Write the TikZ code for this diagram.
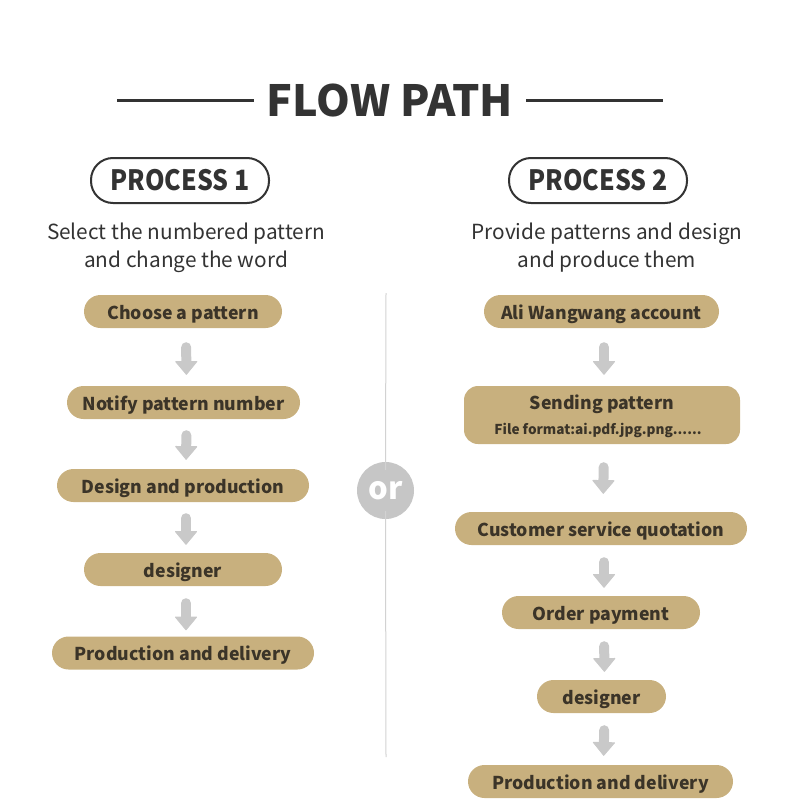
\documentclass[tikz,border=0pt]{standalone}
\usepackage{fontspec}
\setmainfont{Noto Sans CJK SC}
\usetikzlibrary{arrows.meta}
\definecolor{pillc}{HTML}{C8B07E}
\definecolor{pilltext}{HTML}{3B3428}
\definecolor{dark}{HTML}{333333}
\definecolor{arrowc}{HTML}{C9C9C9}
\definecolor{orc}{HTML}{C6C6C6}
\definecolor{divc}{HTML}{D2D2D2}
\begin{document}
\begin{tikzpicture}[x=1pt,y=-1pt,
  pill/.style={fill=pillc, rounded corners=16.5pt, minimum height=33pt, inner sep=0pt,
    text height=15pt, text depth=0pt,
    text=pilltext, font=\fontsize{17.7}{20}\selectfont\bfseries},
  procbox/.style={draw=dark, line width=2pt, rounded corners=22pt, minimum width=178pt,
    minimum height=45pt, inner sep=0pt, text=dark, font=\fontsize{28}{30}\selectfont\bfseries},
  subt/.style={text=dark, align=center, font=\fontsize{20.8}{28}\selectfont},
  flow/.style 2 args={draw=arrowc, line width=10pt, line cap=round,
    -{Triangle[width=23pt,length=14pt,line width=1pt,round]},
    shorten <=#1pt, shorten >=#2pt},
  titleline/.style={draw=dark, line width=3pt}]
\useasboundingbox (0,0) rectangle (790,808);

% title
\node[text=dark, font=\fontsize{43}{46}\selectfont\bfseries, inner sep=0pt] (title) at (390,101) {FLOW PATH};
\draw[titleline] ([xshift=-13pt]title.west |- 0,100) coordinate (tl1) -- (117,100) coordinate (tl2);
\draw[titleline] ([xshift=13pt]title.east |- 0,100) coordinate (tr1) -- (663,100) coordinate (tr2);

% process headers
\node[procbox] (p1) at (180,180.5) {\scalebox{0.89}[1]{PROCESS 1}};
\node[procbox] (p2) at (598,180.5) {\scalebox{0.89}[1]{PROCESS 2}};
\node[subt] (s1) at (186,248) {Select the numbered pattern\\and change the word};
\node[subt] (s2) at (607,248) {Provide patterns and design\\and produce them};

% left column
\node[pill, minimum width=198pt] (L1) at (183,311.5) {Choose a pattern};
\node[pill, minimum width=233pt] (L2) at (183.5,402.5) {Notify pattern number};
\node[pill, minimum width=252pt] (L3) at (183,485.5) {Design and production};
\node[pill, minimum width=198pt] (L4) at (183,569.5) {designer};
\node[pill, minimum width=262pt] (L5) at (183,653) {Production and delivery};

% right column
\node[pill, minimum width=235pt] (R1) at (601.5,311.5) {Ali Wangwang account};
\node[fill=pillc, rounded corners=14pt, minimum width=276pt, minimum height=58pt, inner sep=0pt] (R2) at (602,415) {};
\node[text=pilltext, font=\fontsize{17.7}{20}\selectfont\bfseries, inner sep=0pt] (R2a) at (602,404) {Sending pattern};
\node[text=pilltext, font=\fontsize{13.6}{15}\selectfont\bfseries, inner sep=0pt] (R2b) at (598,430) {File format:ai.pdf.jpg.png......};
\node[pill, minimum width=292pt] (R3) at (601,528.5) {Customer service quotation};
\node[pill, minimum width=198pt] (R4) at (601,612.5) {Order payment};
\node[pill, minimum width=129pt] (R5) at (601.5,696.5) {designer};
\node[pill, minimum width=265pt] (R6) at (600.5,781.5) {Production and delivery};

% arrows
\draw[flow={19}{11}] ([xshift=3pt]L1.south) -- ([xshift=3pt]L2.north);
\draw[flow={16}{9}] ([xshift=3pt]L2.south) -- ([xshift=3pt]L3.north);
\draw[flow={16}{8}] ([xshift=3pt]L3.south) -- ([xshift=3pt]L4.north);
\draw[flow={17}{6}] ([xshift=3pt]L4.south) -- ([xshift=3pt]L5.north);
\draw[flow={19}{11}] ([xshift=2.5pt]R1.south) -- ([xshift=2pt]R2.north);
\draw[flow={23}{18}] ([xshift=2pt]R2.south) -- ([xshift=2pt]R3.north);
\draw[flow={17}{8}] ([xshift=3pt]R3.south) -- ([xshift=3pt]R4.north);
\draw[flow={17}{8}] ([xshift=3pt]R4.south) -- ([xshift=3pt]R5.north);
\draw[flow={17}{9}] ([xshift=3pt]R5.south) -- ([xshift=3pt]R6.north);

% divider
\node[circle, fill=orc, minimum size=57pt, inner sep=0pt, text=white,
  font=\fontsize{31}{32}\selectfont\bfseries] (or) at (385.5,490.5) {or};
\coordinate (dtop) at (386,293);
\coordinate (dbot) at (386,757);
\draw[divc, line width=1pt] ([yshift=-8pt]or.north) -- (dtop);
\draw[divc, line width=1pt] ([yshift=8pt]or.south) -- (dbot);
\end{tikzpicture}
\end{document}
